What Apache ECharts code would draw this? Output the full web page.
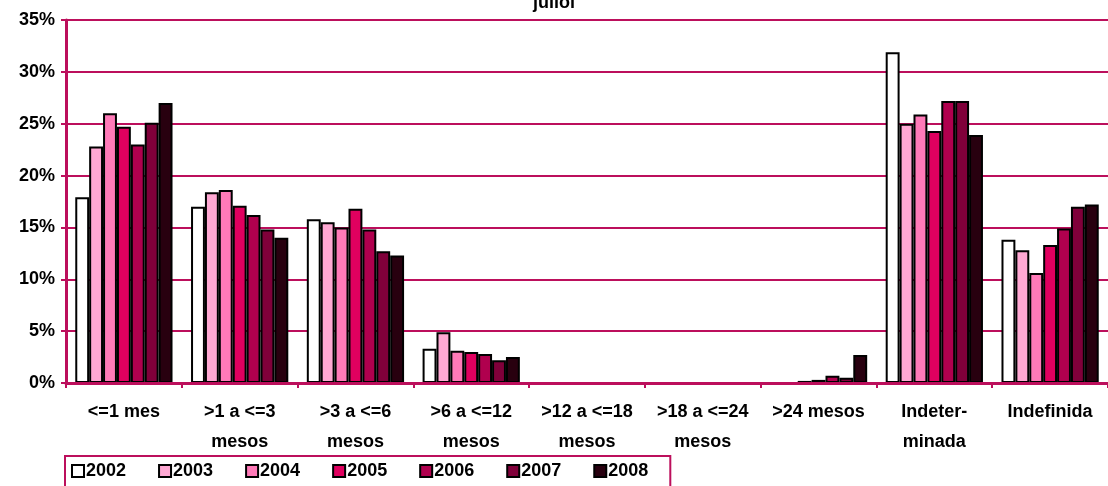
<!DOCTYPE html>
<html>
<head>
<meta charset="utf-8">
<script src="https://cdn.jsdelivr.net/npm/echarts@6/dist/echarts.min.js"></script>
<style>
  html, body { margin: 0; padding: 0; background: #fff; }
  #chart { width: 1108px; height: 486px; }
</style>
</head>
<body>
<div id="chart"></div>
<script>
const categories = ['<=1 mes', '>1 a <=3\nmesos', '>3 a <=6\nmesos', '>6 a <=12\nmesos',
  '>12 a <=18\nmesos', '>18 a <=24\nmesos', '>24 mesos', 'Indeter-\nminada', 'Indefinida'];
const years = ['2002', '2003', '2004', '2005', '2006', '2007', '2008'];
const colors = ['#FFFFFF', '#FFA8D3', '#FF7AB8', '#E0005F', '#B0004E', '#80003A', '#28000F'];

// percentages per year, in category order
const v2002 = [17.9, 17.0, 15.8, 3.3, 0, 0, 0, 31.9, 13.8];
const v2003 = [22.8, 18.4, 15.5, 4.9, 0, 0, 0, 25.0, 12.8];
const v2004 = [26.0, 18.6, 15.0, 3.1, 0, 0, 0.2, 25.9, 10.6];
const v2005 = [24.7, 17.1, 16.8, 3.0, 0, 0, 0.3, 24.3, 13.3];
const v2006 = [23.0, 16.2, 14.8, 2.8, 0, 0, 0.7, 27.2, 14.9];
const v2007 = [25.1, 14.8, 12.7, 2.2, 0, 0, 0.5, 27.2, 17.0];
const v2008 = [27.0, 14.0, 12.3, 2.5, 0, 0, 2.7, 23.9, 17.2];
const values = [v2002, v2003, v2004, v2005, v2006, v2007, v2008];

const axisColor = '#BC0F5C';
const font = 'Liberation Sans, Arial, sans-serif';

const chart = echarts.init(document.getElementById('chart'));

const option = {
  animation: false,
  textStyle: { fontFamily: font },
  title: {
    text: 'juliol',
    left: 'center',
    top: -11,
    textStyle: { fontSize: 18, fontWeight: 'bold', color: '#000', fontFamily: font }
  },
  legend: {
    data: years,
    icon: 'rect',
    left: 65,
    top: 456,
    width: 660,
    padding: [6, 22, 14, 6],
    borderColor: axisColor,
    borderWidth: 2,
    itemWidth: 12,
    itemHeight: 12,
    itemGap: 32,
    textStyle: { fontSize: 18, fontWeight: 'bold', color: '#000', fontFamily: font, padding: [0, 0, 0, -3] }
  },
  grid: {
    left: 66,
    right: 0,
    top: 20,
    bottom: 103
  },
  xAxis: {
    type: 'category',
    data: categories,
    z: 5,
    axisLine: { lineStyle: { color: axisColor, width: 3 } },
    axisTick: { show: true, length: 5, lineStyle: { color: axisColor, width: 2 } },
    axisLabel: {
      interval: 0,
      margin: 14,
      fontSize: 18,
      fontWeight: 'bold',
      color: '#000',
      lineHeight: 30,
      fontFamily: font
    }
  },
  yAxis: {
    type: 'value',
    min: 0,
    max: 35,
    interval: 5,
    axisLine: { show: true, lineStyle: { color: axisColor, width: 3 } },
    axisTick: { show: true, length: 5, lineStyle: { color: axisColor, width: 2 } },
    splitLine: { lineStyle: { color: axisColor, width: 2 } },
    axisLabel: {
      formatter: '{value}%',
      margin: 11,
      fontSize: 18,
      fontWeight: 'bold',
      color: '#000',
      fontFamily: font
    }
  },
  series: years.map((y, i) => ({
    name: y,
    type: 'bar',
    data: values[i],
    barGap: '0%',
    barCategoryGap: '16%',
    itemStyle: { color: colors[i], borderColor: '#000', borderWidth: 2 }
  }))
};

chart.setOption(option);
</script>
</body>
</html>
